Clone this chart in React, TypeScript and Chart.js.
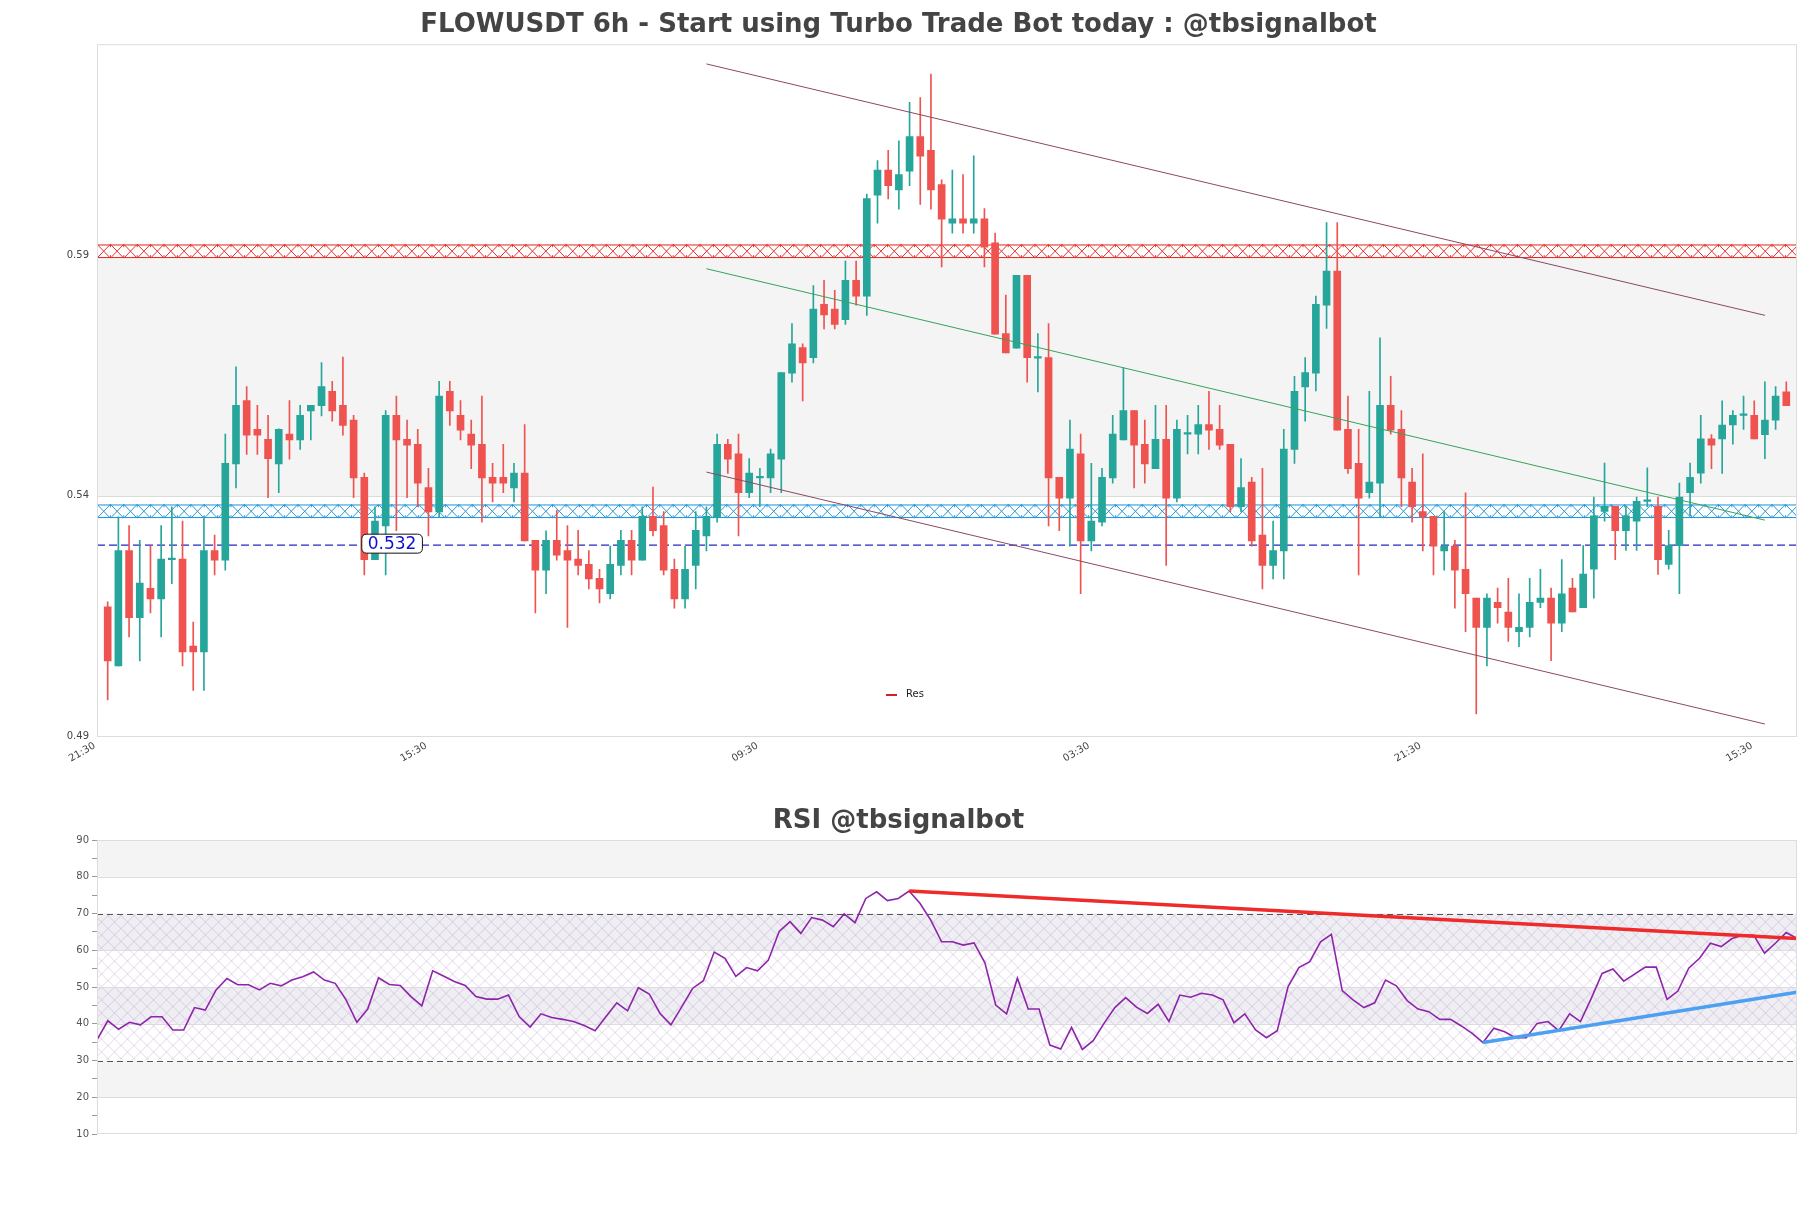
import React, { useEffect, useRef } from 'react';
import { Chart, registerables } from 'chart.js';

Chart.register(...registerables);

const FONT = "'DejaVu Sans', 'Liberation Sans', sans-serif";
const GREEN = '#26a69a';
const RED = '#ef5350';

// ---------- price data (6h candles) ----------
const candleOpen = [
  0.5192, 0.5069, 0.5309, 0.5169, 0.5230, 0.5208, 0.5290, 0.5291, 0.5110, 0.5098,
  0.5309, 0.5289, 0.5489, 0.5621, 0.5561, 0.5540, 0.5489, 0.5551, 0.5539, 0.5599,
  0.5610, 0.5640, 0.5611, 0.5580, 0.5461, 0.5290, 0.5360, 0.5590, 0.5540, 0.5530,
  0.5440, 0.5389, 0.5640, 0.5590, 0.5551, 0.5530, 0.5461, 0.5461, 0.5439, 0.5470,
  0.5330, 0.5268, 0.5330, 0.5309, 0.5291, 0.5280, 0.5251, 0.5219, 0.5278, 0.5330,
  0.5289, 0.5380, 0.5361, 0.5270, 0.5208, 0.5278, 0.5339, 0.5379, 0.5530, 0.5510,
  0.5429, 0.5460, 0.5460, 0.5499, 0.5678, 0.5731, 0.5710, 0.5821, 0.5811, 0.5789,
  0.5871, 0.5838, 0.6048, 0.6100, 0.6059, 0.6098, 0.6170, 0.6141, 0.6070, 0.5990,
  0.5999, 0.5990, 0.5999, 0.5949, 0.5760, 0.5730, 0.5881, 0.5709, 0.5710, 0.5461,
  0.5418, 0.5510, 0.5329, 0.5368, 0.5460, 0.5539, 0.5600, 0.5530, 0.5479, 0.5540,
  0.5418, 0.5551, 0.5551, 0.5571, 0.5561, 0.5530, 0.5400, 0.5451, 0.5341, 0.5278,
  0.5308, 0.5519, 0.5649, 0.5678, 0.5819, 0.5890, 0.5561, 0.5490, 0.5429, 0.5449,
  0.5611, 0.5561, 0.5451, 0.5390, 0.5380, 0.5308, 0.5318, 0.5270, 0.5210, 0.5149,
  0.5201, 0.5181, 0.5140, 0.5149, 0.5201, 0.5210, 0.5158, 0.5231, 0.5190, 0.5270,
  0.5390, 0.5401, 0.5350, 0.5370, 0.5411, 0.5401, 0.5280, 0.5319, 0.5429, 0.5470,
  0.5541, 0.5541, 0.5570, 0.5590, 0.5590, 0.5550, 0.5580, 0.5639,
];
const candleHigh = [
  0.5202, 0.5379, 0.5361, 0.5330, 0.5318, 0.5361, 0.5400, 0.5370, 0.5160, 0.5379,
  0.5341, 0.5551, 0.5691, 0.5650, 0.5611, 0.5590, 0.5562, 0.5621, 0.5611, 0.5611,
  0.5700, 0.5661, 0.5711, 0.5590, 0.5470, 0.5400, 0.5600, 0.5630, 0.5580, 0.5561,
  0.5480, 0.5661, 0.5661, 0.5621, 0.5580, 0.5630, 0.5490, 0.5530, 0.5490, 0.5571,
  0.5330, 0.5350, 0.5393, 0.5361, 0.5351, 0.5309, 0.5270, 0.5318, 0.5351, 0.5351,
  0.5400, 0.5441, 0.5390, 0.5291, 0.5318, 0.5390, 0.5400, 0.5551, 0.5540, 0.5551,
  0.5500, 0.5480, 0.5520, 0.5679, 0.5781, 0.5739, 0.5860, 0.5871, 0.5850, 0.5911,
  0.5911, 0.6050, 0.6120, 0.6141, 0.6161, 0.6241, 0.6251, 0.6300, 0.6080, 0.6100,
  0.6091, 0.6130, 0.6020, 0.5969, 0.5840, 0.5881, 0.5881, 0.5760, 0.5781, 0.5461,
  0.5580, 0.5551, 0.5490, 0.5480, 0.5590, 0.5689, 0.5600, 0.5580, 0.5611, 0.5611,
  0.5580, 0.5590, 0.5611, 0.5640, 0.5611, 0.5530, 0.5500, 0.5461, 0.5480, 0.5370,
  0.5561, 0.5671, 0.5710, 0.5838, 0.5991, 0.5991, 0.5630, 0.5561, 0.5640, 0.5751,
  0.5671, 0.5600, 0.5480, 0.5510, 0.5380, 0.5390, 0.5330, 0.5429, 0.5210, 0.5219,
  0.5231, 0.5251, 0.5219, 0.5251, 0.5270, 0.5231, 0.5290, 0.5251, 0.5319, 0.5420,
  0.5491, 0.5401, 0.5401, 0.5420, 0.5481, 0.5420, 0.5351, 0.5449, 0.5491, 0.5590,
  0.5550, 0.5620, 0.5600, 0.5630, 0.5620, 0.5660, 0.5650, 0.5660,
];
const candleLow = [
  0.4998, 0.5069, 0.5129, 0.5079, 0.5179, 0.5129, 0.5240, 0.5069, 0.5018, 0.5018,
  0.5258, 0.5268, 0.5439, 0.5509, 0.5509, 0.5419, 0.5429, 0.5499, 0.5519, 0.5539,
  0.5589, 0.5578, 0.5549, 0.5419, 0.5258, 0.5290, 0.5258, 0.5350, 0.5419, 0.5400,
  0.5339, 0.5379, 0.5569, 0.5539, 0.5479, 0.5368, 0.5410, 0.5429, 0.5410, 0.5329,
  0.5179, 0.5219, 0.5289, 0.5149, 0.5258, 0.5229, 0.5200, 0.5208, 0.5258, 0.5258,
  0.5289, 0.5339, 0.5258, 0.5189, 0.5189, 0.5229, 0.5308, 0.5368, 0.5469, 0.5339,
  0.5419, 0.5400, 0.5429, 0.5429, 0.5659, 0.5620, 0.5699, 0.5770, 0.5770, 0.5779,
  0.5819, 0.5798, 0.5990, 0.6040, 0.6019, 0.6068, 0.6029, 0.6019, 0.5899, 0.5969,
  0.5969, 0.5969, 0.5899, 0.5759, 0.5720, 0.5730, 0.5659, 0.5639, 0.5360, 0.5350,
  0.5318, 0.5219, 0.5308, 0.5360, 0.5449, 0.5539, 0.5439, 0.5449, 0.5479, 0.5278,
  0.5410, 0.5510, 0.5510, 0.5519, 0.5519, 0.5389, 0.5389, 0.5318, 0.5229, 0.5250,
  0.5250, 0.5490, 0.5578, 0.5641, 0.5771, 0.5559, 0.5469, 0.5258, 0.5418, 0.5379,
  0.5551, 0.5400, 0.5368, 0.5308, 0.5258, 0.5268, 0.5189, 0.5140, 0.4969, 0.5069,
  0.5158, 0.5120, 0.5109, 0.5129, 0.5190, 0.5080, 0.5140, 0.5181, 0.5190, 0.5210,
  0.5370, 0.5290, 0.5309, 0.5309, 0.5400, 0.5259, 0.5270, 0.5219, 0.5381, 0.5449,
  0.5479, 0.5469, 0.5530, 0.5561, 0.5541, 0.5500, 0.5561, 0.5610,
];
const candleClose = [
  0.5079, 0.5309, 0.5169, 0.5241, 0.5208, 0.5291, 0.5292, 0.5098, 0.5098, 0.5309,
  0.5289, 0.5490, 0.5611, 0.5549, 0.5549, 0.5500, 0.5561, 0.5539, 0.5590, 0.5611,
  0.5650, 0.5599, 0.5569, 0.5460, 0.5290, 0.5370, 0.5590, 0.5539, 0.5528, 0.5449,
  0.5389, 0.5630, 0.5599, 0.5559, 0.5528, 0.5460, 0.5449, 0.5449, 0.5470, 0.5329,
  0.5268, 0.5330, 0.5299, 0.5289, 0.5278, 0.5250, 0.5229, 0.5280, 0.5330, 0.5289,
  0.5380, 0.5350, 0.5268, 0.5208, 0.5270, 0.5351, 0.5380, 0.5530, 0.5499, 0.5429,
  0.5470, 0.5462, 0.5510, 0.5679, 0.5739, 0.5699, 0.5811, 0.5799, 0.5779, 0.5871,
  0.5838, 0.6041, 0.6100, 0.6068, 0.6091, 0.6170, 0.6129, 0.6059, 0.5998, 0.5999,
  0.5990, 0.5999, 0.5940, 0.5759, 0.5720, 0.5881, 0.5710, 0.5711, 0.5460, 0.5418,
  0.5520, 0.5329, 0.5370, 0.5461, 0.5551, 0.5600, 0.5528, 0.5489, 0.5540, 0.5418,
  0.5561, 0.5553, 0.5571, 0.5559, 0.5528, 0.5400, 0.5440, 0.5329, 0.5278, 0.5309,
  0.5520, 0.5640, 0.5679, 0.5821, 0.5890, 0.5559, 0.5479, 0.5418, 0.5451, 0.5611,
  0.5559, 0.5460, 0.5400, 0.5379, 0.5318, 0.5318, 0.5268, 0.5219, 0.5149, 0.5210,
  0.5190, 0.5149, 0.5149, 0.5201, 0.5210, 0.5158, 0.5219, 0.5181, 0.5260, 0.5381,
  0.5401, 0.5350, 0.5381, 0.5411, 0.5413, 0.5290, 0.5319, 0.5420, 0.5461, 0.5541,
  0.5528, 0.5570, 0.5590, 0.5592, 0.5541, 0.5580, 0.5630, 0.5610,
];

const timeTickIndex = [0, 31, 62, 93, 124, 155];
const timeTickLabels = ['21:30', '15:30', '09:30', '03:30', '21:30', '15:30'];
const priceTicks = [0.4923, 0.5423, 0.5923];

const rangeZone = [0.5422, 0.5917];
const resZone = [0.5917, 0.5946];
const supZone = [0.5376, 0.5405];
const markLevel = 0.532;
const markLabel = '0.532';
const legendLabel = 'Res';

const channelUpperX = [56, 155];
const channelUpperY = [0.6321, 0.5798];
const channelMidX = [56, 155];
const channelMidY = [0.5895, 0.5372];
const channelLowerX = [56, 155];
const channelLowerY = [0.5472, 0.4948];

// ---------- RSI data ----------
const rsiValues = [
  35.6, 40.8, 38.5, 40.4, 39.7, 41.9, 41.9, 38.3, 38.3, 44.4,
  43.7, 49.2, 52.3, 50.6, 50.6, 49.2, 51.0, 50.3, 51.9, 52.8,
  54.1, 51.9, 51.0, 46.5, 40.4, 44.0, 52.5, 50.7, 50.4, 47.4,
  44.9, 54.4, 53.0, 51.5, 50.4, 47.4, 46.7, 46.7, 47.8, 41.9,
  39.1, 42.7, 41.7, 41.2, 40.6, 39.5, 38.1, 41.9, 45.7, 43.5,
  49.8, 48.1, 42.8, 39.7, 44.6, 49.6, 51.7, 59.5, 57.8, 52.9,
  55.3, 54.4, 57.3, 65.1, 67.8, 64.6, 68.9, 68.2, 66.4, 69.9,
  67.5, 74.1, 75.9, 73.5, 74.1, 76.1, 72.8, 68.2, 62.3, 62.3,
  61.4, 62.0, 56.6, 45.1, 42.7, 52.4, 44.0, 44.0, 34.2, 33.1,
  39.0, 33.0, 35.4, 40.1, 44.4, 47.1, 44.5, 42.8, 45.3, 40.6,
  47.8, 47.2, 48.3, 47.8, 46.5, 40.3, 42.7, 38.3, 36.2, 38.1,
  50.1, 55.3, 56.9, 62.3, 64.3, 49.0, 46.5, 44.4, 45.7, 51.9,
  50.3, 46.3, 44.0, 43.3, 41.2, 41.2, 39.4, 37.4, 34.9, 38.8,
  37.8, 36.2, 36.2, 40.1, 40.6, 38.1, 42.7, 40.6, 46.9, 53.7,
  54.9, 51.6, 53.5, 55.4, 55.4, 46.6, 48.9, 55.1, 57.8, 61.9,
  61.0, 63.2, 64.1, 64.1, 59.2, 61.9, 64.8, 63.2,
];
const rsiTrendHighX = [75, 157];
const rsiTrendHighY = [76.1, 63.2];
const rsiTrendLowX = [128, 157];
const rsiTrendLowY = [34.9, 48.6];
const rsiOverbought = 70;
const rsiOversold = 30;
const rsiGridLevels = [20, 40, 50, 60, 80];

// ---------- drawing helpers ----------
function hatchBand(ctx: CanvasRenderingContext2D, left: number, right: number, top: number, bottom: number, color: string) {
  const cell = 13.4;
  ctx.save();
  ctx.beginPath();
  ctx.rect(left, top, right - left, bottom - top);
  ctx.clip();
  ctx.fillStyle = '#ffffff';
  ctx.fillRect(left, top, right - left, bottom - top);
  ctx.strokeStyle = color;
  ctx.lineWidth = 1;
  ctx.beginPath();
  for (let x = left; x < right + cell; x += cell) {
    ctx.moveTo(x, top);
    ctx.lineTo(x + cell, bottom);
    ctx.moveTo(x + cell, top);
    ctx.lineTo(x, bottom);
    ctx.moveTo(x, top);
    ctx.lineTo(x, top + 3);
    ctx.moveTo(x, bottom);
    ctx.lineTo(x, bottom - 3);
  }
  ctx.stroke();
  ctx.lineWidth = 1.2;
  ctx.beginPath();
  ctx.moveTo(left, top + 0.6);
  ctx.lineTo(right, top + 0.6);
  ctx.moveTo(left, bottom - 0.6);
  ctx.lineTo(right, bottom - 0.6);
  ctx.stroke();
  ctx.restore();
}

function roundRect(ctx: CanvasRenderingContext2D, x: number, y: number, w: number, h: number, r: number) {
  ctx.beginPath();
  ctx.moveTo(x + r, y);
  ctx.lineTo(x + w - r, y);
  ctx.quadraticCurveTo(x + w, y, x + w, y + r);
  ctx.lineTo(x + w, y + h - r);
  ctx.quadraticCurveTo(x + w, y + h, x + w - r, y + h);
  ctx.lineTo(x + r, y + h);
  ctx.quadraticCurveTo(x, y + h, x, y + h - r);
  ctx.lineTo(x, y + r);
  ctx.quadraticCurveTo(x, y, x + r, y);
  ctx.closePath();
}

const mainOverlay = {
  id: 'mainOverlay',
  beforeDatasetsDraw(chart: any) {
    const { ctx, chartArea: a, scales } = chart;
    const Y = (v: number) => scales.y.getPixelForValue(v);
    ctx.save();
    ctx.beginPath();
    ctx.rect(a.left, a.top, a.right - a.left, a.bottom - a.top);
    ctx.clip();
    ctx.fillStyle = '#f4f4f4';
    ctx.fillRect(a.left, Y(rangeZone[1]), a.right - a.left, Y(rangeZone[0]) - Y(rangeZone[1]));
    ctx.strokeStyle = '#dcdcdc';
    ctx.lineWidth = 1;
    ctx.beginPath();
    const yb = Math.round(Y(rangeZone[0])) + 0.5;
    ctx.moveTo(a.left, yb);
    ctx.lineTo(a.right, yb);
    ctx.stroke();
    hatchBand(ctx, a.left, a.right, Y(resZone[1]), Y(resZone[0]), '#e2302c');
    hatchBand(ctx, a.left, a.right, Y(supZone[1]), Y(supZone[0]), '#2598dc');
    ctx.setLineDash([8, 4]);
    ctx.strokeStyle = '#2424c4';
    ctx.lineWidth = 1.3;
    const ym = Y(markLevel);
    ctx.beginPath();
    ctx.moveTo(a.left, ym);
    ctx.lineTo(a.right, ym);
    ctx.stroke();
    ctx.restore();
  },
  afterDatasetsDraw(chart: any) {
    const { ctx, chartArea: a, scales } = chart;
    const ym = scales.y.getPixelForValue(markLevel);
    const cx = scales.x.getPixelForValue(26.6);
    ctx.save();
    ctx.font = `17px ${FONT}`;
    const tw = ctx.measureText(markLabel).width;
    const bw = tw + 12;
    const bh = 19;
    roundRect(ctx, cx - bw / 2, ym - bh / 2 - 1.5, bw, bh, 5);
    ctx.fillStyle = '#ffffff';
    ctx.fill();
    ctx.strokeStyle = '#111111';
    ctx.lineWidth = 1;
    ctx.stroke();
    ctx.fillStyle = '#1010cc';
    ctx.textAlign = 'center';
    ctx.textBaseline = 'middle';
    ctx.fillText(markLabel, cx, ym - 1);
    // legend
    ctx.strokeStyle = '#d62020';
    ctx.lineWidth = 2;
    ctx.beginPath();
    ctx.moveTo(886, 695);
    ctx.lineTo(897, 695);
    ctx.stroke();
    ctx.fillStyle = '#222222';
    ctx.font = `10px ${FONT}`;
    ctx.textAlign = 'left';
    ctx.fillText(legendLabel, 906, 694);
    // frame
    ctx.strokeStyle = '#dddddd';
    ctx.lineWidth = 1;
    ctx.strokeRect(a.left + 0.5, a.top + 0.5, a.right - a.left - 1, a.bottom - a.top - 1);
    ctx.restore();
  },
};

const rsiOverlay = {
  id: 'rsiOverlay',
  beforeDatasetsDraw(chart: any) {
    const { ctx, chartArea: a, scales } = chart;
    const Y = (v: number) => scales.y.getPixelForValue(v);
    const w = a.right - a.left;
    ctx.save();
    const fills: [number, number, string][] = [
      [80, 90, '#f4f4f4'],
      [60, 70, '#efeef3'],
      [40, 50, '#efeef3'],
      [20, 30, '#f4f4f4'],
    ];
    fills.forEach(([lo, hi, c]) => {
      ctx.fillStyle = c;
      ctx.fillRect(a.left, Y(hi), w, Y(lo) - Y(hi));
    });
    // hatch over 30-70
    const top = Y(rsiOverbought);
    const bot = Y(rsiOversold);
    const h = bot - top;
    ctx.save();
    ctx.beginPath();
    ctx.rect(a.left, top, w, h);
    ctx.clip();
    ctx.strokeStyle = 'rgba(175,140,200,0.45)';
    ctx.lineWidth = 0.8;
    ctx.beginPath();
    const dx = h;
    for (let x = a.left - dx; x < a.right + dx; x += 13) {
      ctx.moveTo(x, top);
      ctx.lineTo(x + dx, bot);
      ctx.moveTo(x + dx, top);
      ctx.lineTo(x, bot);
    }
    ctx.stroke();
    ctx.restore();
    // grid lines
    ctx.strokeStyle = '#dcdcdc';
    ctx.lineWidth = 1;
    ctx.beginPath();
    rsiGridLevels.forEach((v) => {
      const yy = Math.round(Y(v)) + 0.5;
      ctx.moveTo(a.left, yy);
      ctx.lineTo(a.right, yy);
    });
    ctx.stroke();
    // dashed levels
    ctx.setLineDash([6, 4]);
    ctx.strokeStyle = '#555555';
    ctx.lineWidth = 1.2;
    ctx.beginPath();
    [rsiOverbought, rsiOversold].forEach((v) => {
      const yy = Math.round(Y(v)) + 0.5;
      ctx.moveTo(a.left, yy);
      ctx.lineTo(a.right, yy);
    });
    ctx.stroke();
    ctx.restore();
  },
  afterDatasetsDraw(chart: any) {
    const { ctx, chartArea: a } = chart;
    ctx.save();
    ctx.strokeStyle = '#dddddd';
    ctx.lineWidth = 1;
    ctx.strokeRect(a.left + 0.5, a.top + 0.5, a.right - a.left - 1, a.bottom - a.top - 1);
    ctx.restore();
  },
};

function mainConfig(): any {
  const idx = candleOpen.map((_, i) => i);
  const colors = idx.map((i) => (candleClose[i] >= candleOpen[i] ? GREEN : RED));
  const pts = (xs: number[], ys: number[]) => xs.map((x, i) => ({ x, y: ys[i] }));
  return {
    type: 'bar',
    data: {
      datasets: [
        {
          type: 'bar',
          label: 'wick',
          data: idx.map((i) => ({ x: i, y: [candleLow[i], candleHigh[i]] })),
          backgroundColor: colors,
          barThickness: 1,
          grouped: false,
          order: 3,
        },
        {
          type: 'bar',
          label: 'body',
          data: idx.map((i) => ({ x: i, y: [candleOpen[i], candleClose[i]] })),
          backgroundColor: colors,
          barThickness: 7,
          minBarLength: 1.5,
          grouped: false,
          order: 2,
        },
        {
          type: 'line',
          label: 'upper',
          data: pts(channelUpperX, channelUpperY),
          borderColor: '#8c4862',
          borderWidth: 1,
          pointRadius: 0,
          order: 1,
        },
        {
          type: 'line',
          label: 'mid',
          data: pts(channelMidX, channelMidY),
          borderColor: '#36a35a',
          borderWidth: 1,
          pointRadius: 0,
          order: 1,
        },
        {
          type: 'line',
          label: 'lower',
          data: pts(channelLowerX, channelLowerY),
          borderColor: '#8c4862',
          borderWidth: 1,
          pointRadius: 0,
          order: 1,
        },
      ],
    },
    options: {
      responsive: false,
      animation: false,
      devicePixelRatio: 1,
      events: [],
      layout: { padding: { left: 0, right: 14, top: 0, bottom: 0 } },
      plugins: {
        legend: { display: false },
        tooltip: { enabled: false },
        title: {
          display: true,
          text: 'FLOWUSDT 6h - Start using Turbo Trade Bot today : @tbsignalbot',
          font: { size: 26, weight: 'bold', family: FONT },
          color: '#444444',
          padding: { top: 10, bottom: 3 },
        },
      },
      scales: {
        x: {
          type: 'linear',
          min: -1,
          max: 158,
          offset: false,
          grid: { display: false, drawTicks: false },
          border: { display: false },
          afterBuildTicks: (s: any) => {
            s.ticks = timeTickIndex.map((v) => ({ value: v }));
          },
          afterFit: (s: any) => {
            s.height = 43;
          },
          ticks: {
            autoSkip: false,
            minRotation: 30,
            maxRotation: 30,
            labelOffset: -13,
            padding: 3,
            color: '#444444',
            font: { size: 10, family: FONT },
            callback: (_v: any, i: number) => timeTickLabels[i],
          },
        },
        y: {
          type: 'linear',
          min: 0.4921,
          max: 0.6362,
          grid: { display: false, drawTicks: false },
          border: { display: false },
          afterBuildTicks: (s: any) => {
            s.ticks = priceTicks.map((v) => ({ value: v }));
          },
          afterFit: (s: any) => {
            s.width = 97;
          },
          ticks: {
            padding: 8,
            color: '#444444',
            font: { size: 10, family: FONT },
            callback: (v: any) => Number(v).toFixed(2),
          },
        },
      },
    },
    plugins: [mainOverlay],
  };
}

function rsiConfig(): any {
  const pts = (xs: number[], ys: number[]) => xs.map((x, i) => ({ x, y: ys[i] }));
  return {
    type: 'line',
    data: {
      datasets: [
        {
          label: 'RSI',
          data: rsiValues.map((v, i) => ({ x: i, y: v })),
          borderColor: '#8e24aa',
          borderWidth: 1.6,
          pointRadius: 0,
          tension: 0,
          order: 2,
        },
        {
          label: 'trend high',
          data: pts(rsiTrendHighX, rsiTrendHighY),
          borderColor: '#ee2a2a',
          borderWidth: 3.5,
          pointRadius: 0,
          order: 1,
        },
        {
          label: 'trend low',
          data: pts(rsiTrendLowX, rsiTrendLowY),
          borderColor: '#4ca0f2',
          borderWidth: 3.5,
          pointRadius: 0,
          order: 1,
        },
      ],
    },
    options: {
      responsive: false,
      animation: false,
      devicePixelRatio: 1,
      events: [],
      layout: { padding: { left: 0, right: 14, top: 0, bottom: 74 } },
      plugins: {
        legend: { display: false },
        tooltip: { enabled: false },
        title: {
          display: true,
          text: 'RSI @tbsignalbot',
          font: { size: 26, weight: 'bold', family: FONT },
          color: '#444444',
          padding: { top: 26, bottom: 2.8 },
        },
      },
      scales: {
        x: {
          type: 'linear',
          min: 0,
          max: rsiValues.length - 1,
          display: false,
        },
        y: {
          type: 'linear',
          min: 10,
          max: 90,
          grid: { display: true, drawOnChartArea: false, drawTicks: true, tickLength: 5, color: '#999999' },
          border: { display: false },
          afterBuildTicks: (s: any) => {
            const t = [];
            for (let v = 10; v <= 90; v += 5) t.push({ value: v });
            s.ticks = t;
          },
          afterFit: (s: any) => {
            s.width = 97;
          },
          ticks: {
            padding: 3,
            color: '#555555',
            font: { size: 10, family: FONT },
            callback: (v: any) => (Number(v) % 10 === 0 ? String(v) : ''),
          },
        },
      },
    },
    plugins: [rsiOverlay],
  };
}

export default function App() {
  const mainRef = useRef<HTMLCanvasElement>(null);
  const rsiRef = useRef<HTMLCanvasElement>(null);
  useEffect(() => {
    Chart.defaults.font.family = FONT;
    const main = new Chart(mainRef.current as HTMLCanvasElement, mainConfig());
    const rsi = new Chart(rsiRef.current as HTMLCanvasElement, rsiConfig());
    return () => {
      main.destroy();
      rsi.destroy();
    };
  }, []);
  return (
    <div style={{ position: 'absolute', left: 0, top: 0, width: 1811, height: 1208, background: '#ffffff' }}>
      <canvas
        ref={mainRef}
        width={1811}
        height={780}
        style={{ position: 'absolute', left: 0, top: 0, width: 1811, height: 780 }}
      />
      <canvas
        ref={rsiRef}
        width={1811}
        height={428}
        style={{ position: 'absolute', left: 0, top: 780, width: 1811, height: 428 }}
      />
    </div>
  );
}
